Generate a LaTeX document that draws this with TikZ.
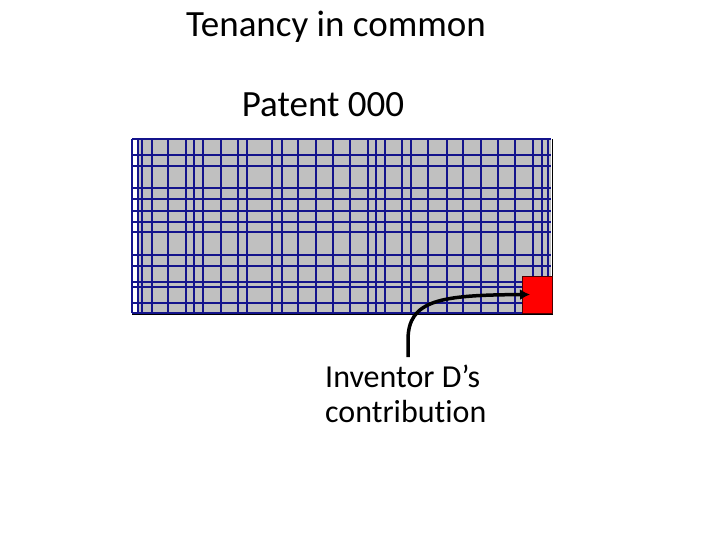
\documentclass[tikz,border=0pt]{standalone}
\usepackage{fontspec}
\setmainfont[RawFeature=-liga]{Carlito}
\usetikzlibrary{arrows.meta}
\definecolor{gridblue}{RGB}{20,20,140}
\definecolor{boxgray}{RGB}{192,192,192}
\tikzset{gline/.style={gridblue,line width=1.2pt},
 lbl/.style={inner sep=0pt,align=left,font=\fontsize{32}{35}\selectfont}}
\begin{document}
\begin{tikzpicture}[x=1pt,y=-1pt]
\useasboundingbox (0,0) rectangle (720,540);
\node[lbl,font=\fontsize{37}{40}\selectfont] (title) at (336,27) {Tenancy in common};
\node[lbl,font=\fontsize{37}{40}\selectfont] (patent) at (323,105) {Patent 000};
\fill[boxgray] (138,139) rectangle (551,313);
\foreach \x in {132,138,142,152,168,186,194,203,221,238,247,272,282,298,316,333,350,368,376,385,402,411,428,447,463,481,498,515,533,542,548}
  \draw[gline] (\x,139) -- (\x,313);
\foreach \y in {139,155,166,188,199,211,222,232,255,266,282,287,303,313}
  \draw[gline] (132,\y) -- (551,\y);
\draw[black,line width=0.8pt] (552,139) -- (552,314) -- (132,314);
\node[draw=black!70!red,fill=red,minimum width=30pt,minimum height=37pt,inner sep=0pt,line width=0.6pt] (d) at (537,294.5) {};
\node[lbl,anchor=north west] (inv) at (325,365) {Inventor D’s\\contribution};
\coordinate (s) at (408,357);
\draw[line width=3.5pt,-{Latex[length=10pt,width=11pt]},shorten >=7pt] (s) -- (408,340) .. controls (408,300) and (440,295) .. (d.center);
\end{tikzpicture}
\end{document}
